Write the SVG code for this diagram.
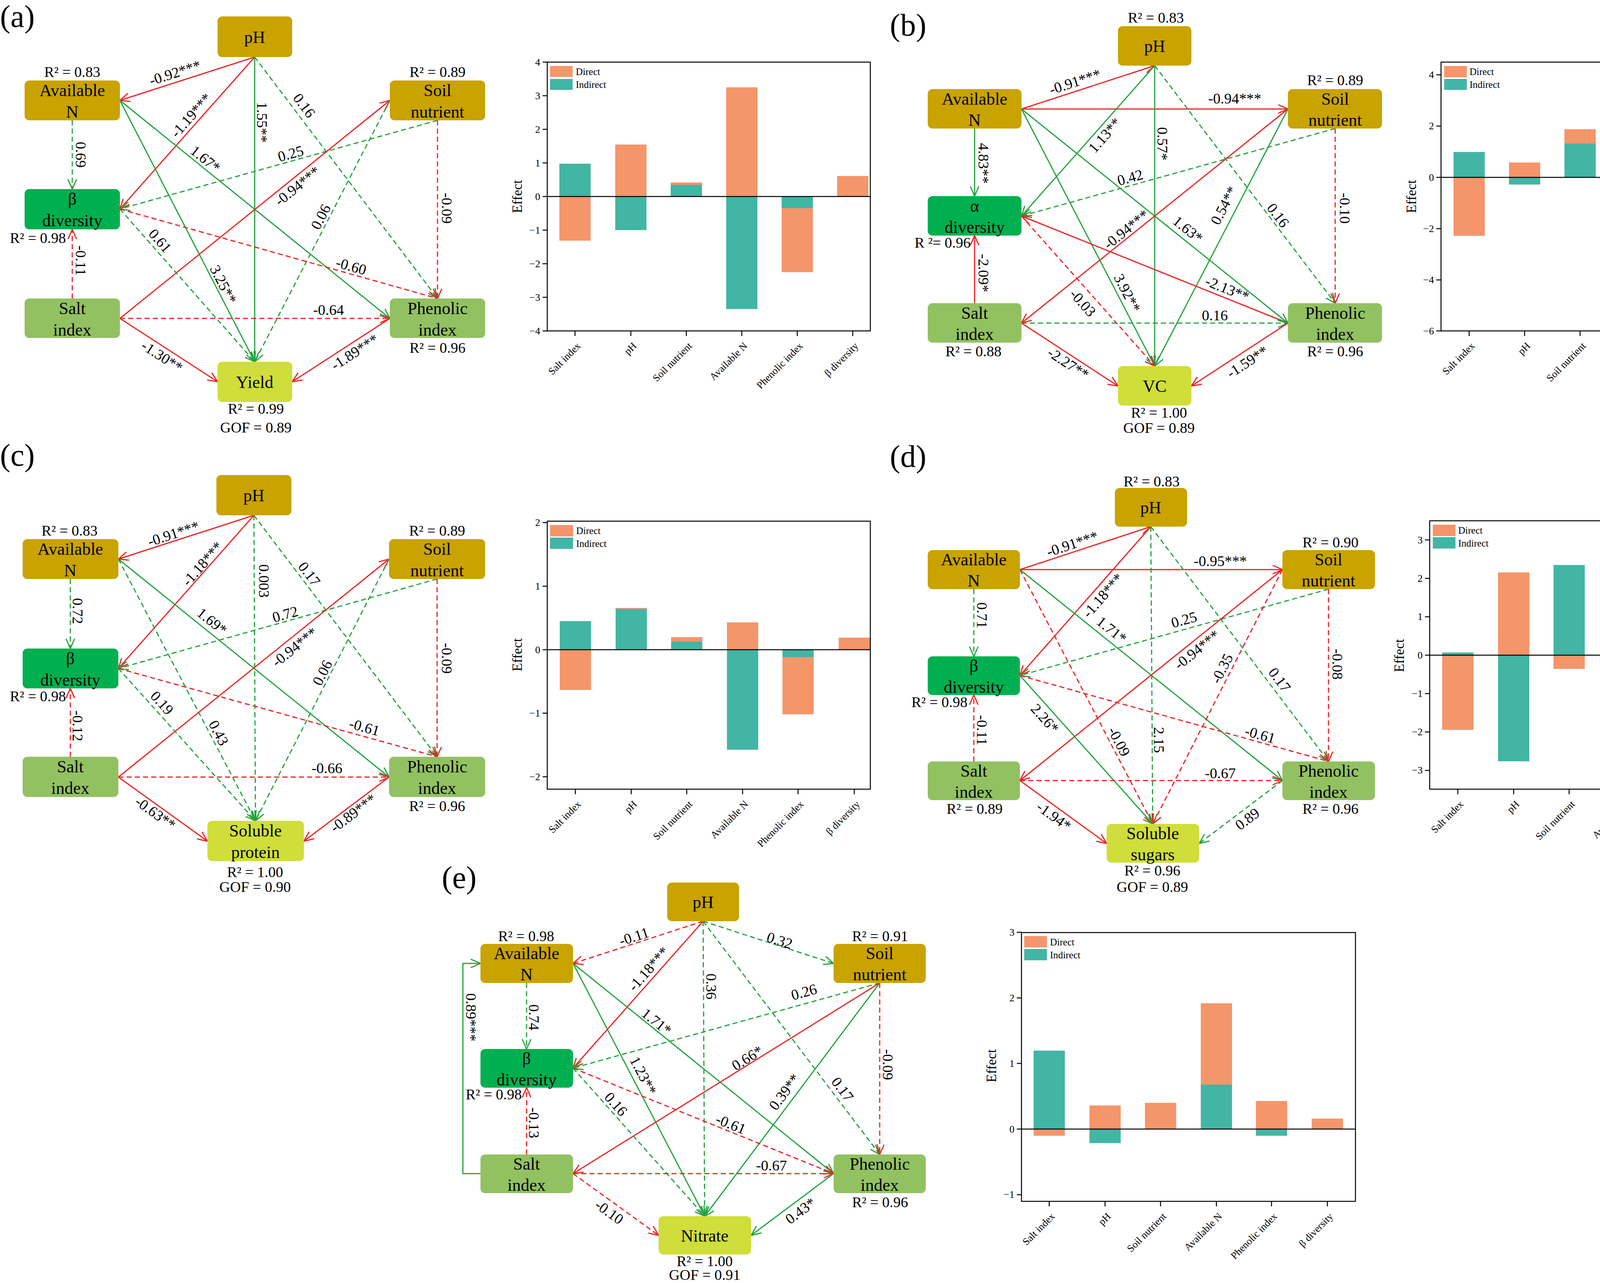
<svg xmlns="http://www.w3.org/2000/svg" width="4547" height="3284" viewBox="0 0 4547 3284">
<style>
text{font-family:"Liberation Serif","Times New Roman",serif;fill:#000}
.nt{font-size:44px;text-anchor:middle}
.el{font-size:38px;text-anchor:middle;dominant-baseline:central}
.rl{font-size:38px;text-anchor:middle}
.pl{font-size:80px}
.tk{font-size:26px;text-anchor:end;dominant-baseline:central}
.xl{font-size:26px;text-anchor:end}
.lg{font-size:25px;dominant-baseline:central}
.ef{font-size:35px;text-anchor:middle;dominant-baseline:central}
.gold{fill:#C9A300}.dg{fill:#00B050}.lgn{fill:#92C162}.yg{fill:#CFDE3B}
.r,.rd{stroke:#EE2222;stroke-width:3;fill:none;marker-end:url(#ar)}
.g,.gd{stroke:#22A33F;stroke-width:3;fill:none;marker-end:url(#ag)}
.rd,.gd{stroke-dasharray:13 8}
.ax{stroke:#000;stroke-width:2.5;fill:none}
.bo{fill:#F5956A}.bt{fill:#43B5A4}
</style>
<defs>
<marker id="ar" viewBox="0 0 30 30" refX="28" refY="15" markerWidth="30" markerHeight="30" markerUnits="userSpaceOnUse" orient="auto"><path d="M3,4 L28,15 L3,26" fill="none" stroke="#EE2222" stroke-width="3"/></marker>
<marker id="ag" viewBox="0 0 30 30" refX="28" refY="15" markerWidth="30" markerHeight="30" markerUnits="userSpaceOnUse" orient="auto"><path d="M3,4 L28,15 L3,26" fill="none" stroke="#22A33F" stroke-width="3"/></marker>
</defs>
<rect width="4547" height="3284" fill="#fff"/>

<!-- ================= PANEL A ================= -->
<text class="pl" x="0" y="69">(a)</text>
<g id="a-connectors">
<line class="r" x1="652" y1="146" x2="307" y2="257"/>
<line class="r" x1="652" y1="146" x2="307" y2="535"/>
<line class="g" x1="652" y1="146" x2="652" y2="926"/>
<line class="gd" x1="652" y1="146" x2="1120" y2="764"/>
<line class="gd" x1="185" y1="308" x2="185" y2="484"/>
<line class="g" x1="307" y1="257" x2="652" y2="926"/>
<line class="g" x1="307" y1="257" x2="998" y2="815"/>
<line class="gd" x1="1120" y1="308" x2="307" y2="535"/>
<line class="rd" x1="1120" y1="308" x2="1120" y2="764"/>
<line class="r" x1="307" y1="815" x2="998" y2="257"/>
<line class="gd" x1="998" y1="257" x2="652" y2="926"/>
<line class="gd" x1="307" y1="535" x2="652" y2="926"/>
<line class="rd" x1="307" y1="535" x2="1120" y2="764"/>
<line class="rd" x1="185" y1="764" x2="185" y2="587"/>
<line class="rd" x1="307" y1="815" x2="998" y2="815"/>
<line class="r" x1="307" y1="815" x2="557" y2="977"/>
<line class="r" x1="998" y1="815" x2="748" y2="977"/>
<text class="el" transform="translate(448,186) rotate(-17.8)">-0.92***</text>
<text class="el" transform="translate(489,295) rotate(-48.4)">-1.19***</text>
<text class="el" transform="translate(671,313) rotate(90)">1.55**</text>
<text class="el" transform="translate(779,270) rotate(52.9)">0.16</text>
<text class="el" transform="translate(207,396) rotate(90)">0.69</text>
<text class="el" transform="translate(572,728) rotate(62.7)">3.25**</text>
<text class="el" transform="translate(526,407) rotate(38.9)">1.67*</text>
<text class="el" transform="translate(744,393) rotate(-15.6)">0.25</text>
<text class="el" transform="translate(1144,533) rotate(90)">-0.09</text>
<text class="el" transform="translate(761,476) rotate(-38.9)">-0.94***</text>
<text class="el" transform="translate(821,555) rotate(-62.6)">0.06</text>
<text class="el" transform="translate(410,616) rotate(48.6)">0.61</text>
<text class="el" transform="translate(899,681) rotate(15.7)">-0.60</text>
<text class="el" transform="translate(207,667) rotate(90)">-0.11</text>
<text class="el" transform="translate(841,793)">-0.64</text>
<text class="el" transform="translate(415,912) rotate(33)">-1.30**</text>
<text class="el" transform="translate(908,901) rotate(-33)">-1.89***</text>
</g>
<g id="a-ph"><rect class="gold" x="557" y="42" width="191" height="104" rx="12"/><text class="nt" x="652" y="110">pH</text></g>
<g id="a-avn"><rect class="gold" x="63" y="206" width="244" height="102" rx="12"/><text class="nt" x="185" y="246">Available</text><text class="nt" x="185" y="301">N</text><text class="rl" x="185" y="197">R² = 0.83</text></g>
<g id="a-soil"><rect class="gold" x="998" y="206" width="244" height="102" rx="12"/><text class="nt" x="1120" y="246">Soil</text><text class="nt" x="1120" y="301">nutrient</text><text class="rl" x="1120" y="197">R² = 0.89</text></g>
<g id="a-beta"><rect class="dg" x="63" y="484" width="244" height="103" rx="12"/><text class="nt" x="185" y="524">β</text><text class="nt" x="185" y="579">diversity</text><text class="rl" x="97" y="622">R² = 0.98</text></g>
<g id="a-salt"><rect class="lgn" x="63" y="764" width="244" height="101" rx="12"/><text class="nt" x="185" y="804">Salt</text><text class="nt" x="185" y="859">index</text></g>
<g id="a-phen"><rect class="lgn" x="998" y="764" width="244" height="101" rx="12"/><text class="nt" x="1120" y="804">Phenolic</text><text class="nt" x="1120" y="859">index</text><text class="rl" x="1120" y="903">R² = 0.96</text></g>
<g id="a-yield"><rect class="yg" x="557" y="926" width="191" height="103" rx="12"/><text class="nt" x="652" y="993">Yield</text><text class="rl" x="655" y="1059">R² = 0.99</text><text class="rl" x="655" y="1107">GOF = 0.89</text></g>

<g id="a-chart">
<rect class="bo" x="1432" y="503" width="80" height="113"/><rect class="bt" x="1432" y="419" width="80" height="84"/>
<rect class="bo" x="1575" y="370" width="80" height="133"/><rect class="bt" x="1575" y="503" width="80" height="86"/>
<rect class="bo" x="1717" y="467" width="80" height="36"/><rect class="bt" x="1717" y="473" width="80" height="30"/>
<rect class="bo" x="1859" y="223.5" width="80" height="279.5"/><rect class="bt" x="1859" y="503" width="80" height="288"/>
<rect class="bo" x="2001" y="503" width="80" height="193.5"/><rect class="bt" x="2001" y="503" width="80" height="30"/>
<rect class="bo" x="2143" y="450.5" width="80" height="52.5"/>
<rect class="ax" x="1401" y="159" width="827" height="688"/>
<path class="ax" d="M1401,503H2228 M1389,159H1401 M1389,245H1401 M1389,331H1401 M1389,417H1401 M1389,503H1401 M1389,589H1401 M1389,675H1401 M1389,761H1401 M1389,847H1401 M1472,847V860 M1615,847V860 M1757,847V860 M1899,847V860 M2041,847V860 M2183,847V860"/>
<text class="tk" x="1383" y="159">4</text><text class="tk" x="1383" y="245">3</text><text class="tk" x="1383" y="331">2</text><text class="tk" x="1383" y="417">1</text><text class="tk" x="1383" y="503">0</text><text class="tk" x="1383" y="589">−1</text><text class="tk" x="1383" y="675">−2</text><text class="tk" x="1383" y="761">−3</text><text class="tk" x="1383" y="847">−4</text>
<text class="ef" transform="translate(1324,503) rotate(-90)">Effect</text>
<rect class="bo" x="1408" y="169" width="58" height="28"/><rect class="bt" x="1408" y="202" width="58" height="28"/>
<text class="lg" x="1474" y="183">Direct</text><text class="lg" x="1474" y="216">Indirect</text>
<text class="xl" transform="translate(1488,887) rotate(-45)">Salt index</text>
<text class="xl" transform="translate(1631,887) rotate(-45)">pH</text>
<text class="xl" transform="translate(1773,887) rotate(-45)">Soil nutrient</text>
<text class="xl" transform="translate(1915,887) rotate(-45)">Available N</text>
<text class="xl" transform="translate(2057,887) rotate(-45)">Phenolic index</text>
<text class="xl" transform="translate(2199,887) rotate(-45)">β diversity</text>
</g>

<!-- ================= PANEL B ================= -->
<text class="pl" x="2278" y="91">(b)</text>
<g id="b-connectors">
<line class="r" x1="2615" y1="279" x2="2956" y2="168"/>
<line class="r" x1="2615" y1="279" x2="3297" y2="279"/>
<line class="g" x1="2495" y1="329" x2="2495" y2="502"/>
<line class="g" x1="2956" y1="168" x2="2615" y2="553"/>
<line class="g" x1="2956" y1="168" x2="2956" y2="937"/>
<line class="gd" x1="2956" y1="168" x2="3418" y2="776"/>
<line class="gd" x1="3418" y1="329" x2="2615" y2="553"/>
<line class="rd" x1="3418" y1="329" x2="3418" y2="776"/>
<line class="g" x1="2615" y1="279" x2="2956" y2="937"/>
<line class="g" x1="2615" y1="279" x2="3297" y2="827"/>
<line class="r" x1="3297" y1="279" x2="2615" y2="827"/>
<line class="g" x1="3297" y1="279" x2="2956" y2="937"/>
<line class="rd" x1="2615" y1="553" x2="2956" y2="937"/>
<line class="r" x1="3297" y1="827" x2="2615" y2="553"/>
<line class="r" x1="2495" y1="776" x2="2495" y2="603"/>
<line class="gd" x1="2615" y1="827" x2="3297" y2="827"/>
<line class="r" x1="2615" y1="827" x2="2862" y2="988"/>
<line class="r" x1="3297" y1="827" x2="3050" y2="988"/>
<text class="el" transform="translate(2752,209) rotate(-18)">-0.91***</text>
<text class="el" transform="translate(3161,252)">-0.94***</text>
<text class="el" transform="translate(2518,418) rotate(90)">4.83**</text>
<text class="el" transform="translate(2828,346) rotate(-48.5)">1.13**</text>
<text class="el" transform="translate(2976,368) rotate(90)">0.57*</text>
<text class="el" transform="translate(3272,551) rotate(52.8)">0.16</text>
<text class="el" transform="translate(2893,454) rotate(-15.6)">0.42</text>
<text class="el" transform="translate(3443,533) rotate(90)">-0.10</text>
<text class="el" transform="translate(2886,750) rotate(62.6)">3.92**</text>
<text class="el" transform="translate(3041,587) rotate(38.8)">1.63*</text>
<text class="el" transform="translate(2883,587) rotate(-38.8)">-0.94***</text>
<text class="el" transform="translate(3133,526) rotate(-62.6)">0.54**</text>
<text class="el" transform="translate(2772,775) rotate(48.4)">-0.03</text>
<text class="el" transform="translate(3142,739) rotate(21.9)">-2.13**</text>
<text class="el" transform="translate(2518,699) rotate(90)">-2.09*</text>
<text class="el" transform="translate(3110,807)">0.16</text>
<text class="el" transform="translate(2735,930) rotate(33.1)">-2.27**</text>
<text class="el" transform="translate(3193,926) rotate(-33.1)">-1.59**</text>
</g>
<g id="b-ph"><rect class="gold" x="2862" y="67" width="188" height="101" rx="12"/><text class="nt" x="2956" y="133">pH</text><text class="rl" x="2959" y="58">R² = 0.83</text></g>
<g id="b-avn"><rect class="gold" x="2375" y="228" width="240" height="101" rx="12"/><text class="nt" x="2495" y="268">Available</text><text class="nt" x="2495" y="322">N</text></g>
<g id="b-soil"><rect class="gold" x="3297" y="228" width="241" height="101" rx="12"/><text class="nt" x="3418" y="268">Soil</text><text class="nt" x="3418" y="322">nutrient</text><text class="rl" x="3418" y="218">R² = 0.89</text></g>
<g id="b-alpha"><rect class="dg" x="2375" y="502" width="240" height="101" rx="12"/><text class="nt" x="2495" y="542">α</text><text class="nt" x="2495" y="596">diversity</text><text class="rl" x="2413" y="634">R ²= 0.96</text></g>
<g id="b-salt"><rect class="lgn" x="2375" y="776" width="240" height="101" rx="12"/><text class="nt" x="2495" y="816">Salt</text><text class="nt" x="2495" y="870">index</text><text class="rl" x="2492" y="912">R² = 0.88</text></g>
<g id="b-phen"><rect class="lgn" x="3297" y="776" width="241" height="101" rx="12"/><text class="nt" x="3418" y="816">Phenolic</text><text class="nt" x="3418" y="870">index</text><text class="rl" x="3418" y="912">R² = 0.96</text></g>
<g id="b-vc"><rect class="yg" x="2862" y="937" width="188" height="101" rx="12"/><text class="nt" x="2956" y="1003">VC</text><text class="rl" x="2967" y="1069">R² = 1.00</text><text class="rl" x="2967" y="1108">GOF = 0.89</text></g>

<g id="b-chart">
<rect class="bo" x="3721" y="454" width="80" height="149.6"/><rect class="bt" x="3721" y="389" width="80" height="65"/>
<rect class="bo" x="3863" y="416" width="80" height="38"/><rect class="bt" x="3863" y="454" width="80" height="18.4"/>
<rect class="bo" x="4005" y="330.7" width="80" height="123.3"/><rect class="bt" x="4005" y="367.4" width="80" height="86.6"/>
<rect class="bo" x="4147" y="196.2" width="80" height="257.8"/><rect class="bt" x="4147" y="454" width="80" height="307"/>
<rect class="bo" x="4290" y="454" width="80" height="105"/><rect class="bt" x="4290" y="450" width="80" height="4"/>
<rect class="bo" x="4432" y="454" width="80" height="3"/>
<rect class="ax" x="3689" y="159" width="854" height="688"/>
<path class="ax" d="M3689,454H4543 M3677,191.6H3689 M3677,322.8H3689 M3677,454H3689 M3677,585.2H3689 M3677,716.4H3689 M3677,847H3689 M3761,847V860 M3903,847V860 M4045,847V860 M4187,847V860 M4330,847V860 M4472,847V860"/>
<text class="tk" x="3671" y="191.6">4</text><text class="tk" x="3671" y="322.8">2</text><text class="tk" x="3671" y="454">0</text><text class="tk" x="3671" y="585.2">−2</text><text class="tk" x="3671" y="716.4">−4</text><text class="tk" x="3671" y="847">−6</text>
<text class="ef" transform="translate(3613,503) rotate(-90)">Effect</text>
<rect class="bo" x="3697" y="169" width="58" height="29"/><rect class="bt" x="3697" y="202" width="58" height="28"/>
<text class="lg" x="3762" y="183">Direct</text><text class="lg" x="3762" y="216">Indirect</text>
<text class="xl" transform="translate(3777,887) rotate(-45)">Salt index</text>
<text class="xl" transform="translate(3919,887) rotate(-45)">pH</text>
<text class="xl" transform="translate(4061,887) rotate(-45)">Soil nutrient</text>
<text class="xl" transform="translate(4203,887) rotate(-45)">Available N</text>
<text class="xl" transform="translate(4346,887) rotate(-45)">Phenolic index</text>
<text class="xl" transform="translate(4488,887) rotate(-45)">β diversity</text>
</g>

<!-- ================= PANEL C ================= -->
<text class="pl" x="0" y="1192">(c)</text>
<g id="c-connectors">
<line class="r" x1="650" y1="1319" x2="303" y2="1431"/>
<line class="r" x1="650" y1="1319" x2="303" y2="1711"/>
<line class="gd" x1="650" y1="1319" x2="654" y2="2101"/>
<line class="gd" x1="650" y1="1319" x2="1119" y2="1937"/>
<line class="gd" x1="180" y1="1482" x2="180" y2="1660"/>
<line class="gd" x1="303" y1="1431" x2="654" y2="2101"/>
<line class="g" x1="303" y1="1431" x2="996" y2="1989"/>
<line class="gd" x1="1119" y1="1482" x2="303" y2="1711"/>
<line class="rd" x1="1119" y1="1482" x2="1119" y2="1937"/>
<line class="r" x1="303" y1="1989" x2="996" y2="1431"/>
<line class="gd" x1="996" y1="1431" x2="654" y2="2101"/>
<line class="gd" x1="303" y1="1711" x2="654" y2="2101"/>
<line class="rd" x1="303" y1="1711" x2="1119" y2="1937"/>
<line class="rd" x1="180" y1="1937" x2="180" y2="1762"/>
<line class="rd" x1="303" y1="1989" x2="996" y2="1989"/>
<line class="r" x1="303" y1="1989" x2="531" y2="2153"/>
<line class="r" x1="996" y1="1989" x2="778" y2="2153"/>
<text class="el" transform="translate(444,1366) rotate(-17.9)">-0.91***</text>
<text class="el" transform="translate(518,1443) rotate(-48.5)">-1.18***</text>
<text class="el" transform="translate(676,1487) rotate(90)">0.003</text>
<text class="el" transform="translate(792,1469) rotate(52.8)">0.17</text>
<text class="el" transform="translate(199,1564) rotate(90)">0.72</text>
<text class="el" transform="translate(560,1876) rotate(62.3)">0.43</text>
<text class="el" transform="translate(543,1590) rotate(38.8)">1.69*</text>
<text class="el" transform="translate(730,1572) rotate(-15.7)">0.72</text>
<text class="el" transform="translate(1144,1685) rotate(90)">-0.09</text>
<text class="el" transform="translate(754,1656) rotate(-38.8)">-0.94***</text>
<text class="el" transform="translate(825,1722) rotate(-63)">0.06</text>
<text class="el" transform="translate(415,1799) rotate(48)">0.19</text>
<text class="el" transform="translate(933,1861) rotate(15.5)">-0.61</text>
<text class="el" transform="translate(199,1858) rotate(90)">-0.12</text>
<text class="el" transform="translate(837,1966)">-0.66</text>
<text class="el" transform="translate(398,2081) rotate(35.7)">-0.63**</text>
<text class="el" transform="translate(904,2081) rotate(-37)">-0.89***</text>
</g>
<g id="c-ph"><rect class="gold" x="554" y="1216" width="192" height="103" rx="12"/><text class="nt" x="650" y="1283">pH</text></g>
<g id="c-avn"><rect class="gold" x="58" y="1380" width="245" height="102" rx="12"/><text class="nt" x="180" y="1420">Available</text><text class="nt" x="180" y="1475">N</text><text class="rl" x="178" y="1371">R² = 0.83</text></g>
<g id="c-soil"><rect class="gold" x="996" y="1380" width="246" height="102" rx="12"/><text class="nt" x="1119" y="1420">Soil</text><text class="nt" x="1119" y="1475">nutrient</text><text class="rl" x="1119" y="1371">R² = 0.89</text></g>
<g id="c-beta"><rect class="dg" x="58" y="1660" width="245" height="102" rx="12"/><text class="nt" x="180" y="1700">β</text><text class="nt" x="180" y="1755">diversity</text><text class="rl" x="97" y="1795">R² = 0.98</text></g>
<g id="c-salt"><rect class="lgn" x="58" y="1937" width="245" height="103" rx="12"/><text class="nt" x="180" y="1977">Salt</text><text class="nt" x="180" y="2032">index</text></g>
<g id="c-phen"><rect class="lgn" x="996" y="1937" width="246" height="103" rx="12"/><text class="nt" x="1119" y="1977">Phenolic</text><text class="nt" x="1119" y="2032">index</text><text class="rl" x="1119" y="2076">R² = 0.96</text></g>
<g id="c-sp"><rect class="yg" x="531" y="2101" width="247" height="103" rx="12"/><text class="nt" x="654" y="2141">Soluble</text><text class="nt" x="654" y="2196">protein</text><text class="rl" x="653" y="2245">R² = 1.00</text><text class="rl" x="653" y="2283">GOF = 0.90</text></g>

<g id="c-chart">
<rect class="bo" x="1433" y="1663" width="80" height="103"/><rect class="bt" x="1433" y="1589.8" width="80" height="73.2"/>
<rect class="bo" x="1576" y="1556.2" width="80" height="106.8"/><rect class="bt" x="1576" y="1558.6" width="80" height="104.4"/>
<rect class="bo" x="1718" y="1630.8" width="80" height="32.2"/><rect class="bt" x="1718" y="1641.9" width="80" height="21.1"/>
<rect class="bo" x="1861" y="1593.1" width="80" height="69.9"/><rect class="bt" x="1861" y="1663" width="80" height="256"/>
<rect class="bo" x="2003" y="1663" width="80" height="165.4"/><rect class="bt" x="2003" y="1663" width="80" height="18.9"/>
<rect class="bo" x="2147" y="1632.1" width="80" height="30.9"/>
<rect class="ax" x="1401" y="1334" width="827" height="686"/>
<path class="ax" d="M1401,1663H2228 M1389,1337.8H1401 M1389,1500.4H1401 M1389,1663H1401 M1389,1825.6H1401 M1389,1988.2H1401 M1473,2020V2033 M1616,2020V2033 M1758,2020V2033 M1901,2020V2033 M2043,2020V2033 M2187,2020V2033"/>
<text class="tk" x="1383" y="1337.8">2</text><text class="tk" x="1383" y="1500.4">1</text><text class="tk" x="1383" y="1663">0</text><text class="tk" x="1383" y="1825.6">−1</text><text class="tk" x="1383" y="1988.2">−2</text>
<text class="ef" transform="translate(1324,1676) rotate(-90)">Effect</text>
<rect class="bo" x="1408" y="1344" width="59" height="29"/><rect class="bt" x="1408" y="1376" width="59" height="29"/>
<text class="lg" x="1475" y="1358">Direct</text><text class="lg" x="1475" y="1391">Indirect</text>
<text class="xl" transform="translate(1489,2060) rotate(-45)">Salt index</text>
<text class="xl" transform="translate(1632,2060) rotate(-45)">pH</text>
<text class="xl" transform="translate(1774,2060) rotate(-45)">Soil nutrient</text>
<text class="xl" transform="translate(1917,2060) rotate(-45)">Available N</text>
<text class="xl" transform="translate(2059,2060) rotate(-45)">Phenolic index</text>
<text class="xl" transform="translate(2203,2060) rotate(-45)">β diversity</text>
</g>

<!-- ================= PANEL D ================= -->
<text class="pl" x="2278" y="1195">(d)</text>
<g id="d-connectors">
<line class="r" x1="2611" y1="1458" x2="2946" y2="1348"/>
<line class="r" x1="2611" y1="1458" x2="3283" y2="1458"/>
<line class="r" x1="2946" y1="1348" x2="2611" y2="1729"/>
<line class="gd" x1="2493" y1="1508" x2="2493" y2="1680"/>
<line class="gd" x1="2946" y1="1348" x2="2951" y2="2109"/>
<line class="gd" x1="2946" y1="1348" x2="3401" y2="1949"/>
<line class="rd" x1="2611" y1="1458" x2="2951" y2="2109"/>
<line class="g" x1="2611" y1="1458" x2="3283" y2="1998"/>
<line class="gd" x1="3401" y1="1508" x2="2611" y2="1729"/>
<line class="rd" x1="3401" y1="1508" x2="3401" y2="1949"/>
<line class="r" x1="3283" y1="1458" x2="2611" y2="1998"/>
<line class="rd" x1="3283" y1="1458" x2="2951" y2="2109"/>
<line class="g" x1="2611" y1="1729" x2="2951" y2="2109"/>
<line class="rd" x1="2611" y1="1729" x2="3401" y2="1949"/>
<line class="rd" x1="2493" y1="1949" x2="2493" y2="1779"/>
<line class="rd" x1="2611" y1="1998" x2="3283" y2="1998"/>
<line class="r" x1="2611" y1="1998" x2="2833" y2="2159"/>
<line class="gd" x1="3283" y1="1998" x2="3070" y2="2159"/>
<text class="el" transform="translate(2745,1392) rotate(-18.2)">-0.91***</text>
<text class="el" transform="translate(3124,1436)">-0.95***</text>
<text class="el" transform="translate(2823,1524) rotate(-48.7)">-1.18***</text>
<text class="el" transform="translate(2514,1575) rotate(90)">0.71</text>
<text class="el" transform="translate(2967,1894) rotate(90)">2.15</text>
<text class="el" transform="translate(3276,1740) rotate(52.9)">0.17</text>
<text class="el" transform="translate(2865,1898) rotate(62.4)">-0.09</text>
<text class="el" transform="translate(2846,1612) rotate(38.8)">1.71*</text>
<text class="el" transform="translate(3031,1586) rotate(-15.6)">0.25</text>
<text class="el" transform="translate(3424,1700) rotate(90)">-0.08</text>
<text class="el" transform="translate(3064,1663) rotate(-38.8)">-0.94***</text>
<text class="el" transform="translate(3128,1711) rotate(-63)">-0.35</text>
<text class="el" transform="translate(2675,1839) rotate(48.2)">2.26*</text>
<text class="el" transform="translate(3226,1880) rotate(15.6)">-0.61</text>
<text class="el" transform="translate(2514,1869) rotate(90)">-0.11</text>
<text class="el" transform="translate(3124,1979)">-0.67</text>
<text class="el" transform="translate(2698,2089) rotate(36)">-1.94*</text>
<text class="el" transform="translate(3193,2096) rotate(-37)">0.89</text>
</g>
<g id="d-ph"><rect class="gold" x="2854" y="1249" width="185" height="99" rx="12"/><text class="nt" x="2946" y="1314">pH</text><text class="rl" x="2948" y="1245">R² = 0.83</text></g>
<g id="d-avn"><rect class="gold" x="2375" y="1408" width="236" height="100" rx="12"/><text class="nt" x="2493" y="1447">Available</text><text class="nt" x="2493" y="1501">N</text></g>
<g id="d-soil"><rect class="gold" x="3283" y="1408" width="237" height="100" rx="12"/><text class="nt" x="3401" y="1447">Soil</text><text class="nt" x="3401" y="1501">nutrient</text><text class="rl" x="3406" y="1401">R² = 0.90</text></g>
<g id="d-beta"><rect class="dg" x="2375" y="1680" width="236" height="99" rx="12"/><text class="nt" x="2493" y="1719">β</text><text class="nt" x="2493" y="1773">diversity</text><text class="rl" x="2405" y="1810">R² = 0.98</text></g>
<g id="d-salt"><rect class="lgn" x="2375" y="1949" width="236" height="99" rx="12"/><text class="nt" x="2493" y="1988">Salt</text><text class="nt" x="2493" y="2042">index</text><text class="rl" x="2495" y="2083">R² = 0.89</text></g>
<g id="d-phen"><rect class="lgn" x="3283" y="1949" width="237" height="99" rx="12"/><text class="nt" x="3401" y="1988">Phenolic</text><text class="nt" x="3401" y="2042">index</text><text class="rl" x="3406" y="2083">R² = 0.96</text></g>
<g id="d-ss"><rect class="yg" x="2833" y="2109" width="237" height="99" rx="12"/><text class="nt" x="2951" y="2148">Soluble</text><text class="nt" x="2951" y="2202">sugars</text><text class="rl" x="2950" y="2241">R² = 0.96</text><text class="rl" x="2950" y="2283">GOF = 0.89</text></g>

<g id="d-chart">
<rect class="bo" x="3692" y="1677" width="80" height="191.2"/><rect class="bt" x="3692" y="1670.1" width="80" height="6.9"/>
<rect class="bo" x="3835" y="1465.2" width="80" height="211.8"/><rect class="bt" x="3835" y="1677" width="80" height="271.6"/>
<rect class="bo" x="3977" y="1677" width="80" height="35"/><rect class="bt" x="3977" y="1446.2" width="80" height="230.8"/>
<rect class="bo" x="4119" y="1677" width="80" height="66.6"/><rect class="bt" x="4119" y="1677" width="80" height="57.4"/>
<rect class="bo" x="4261" y="1589.1" width="80" height="87.9"/><rect class="bt" x="4261" y="1677" width="80" height="136.6"/>
<rect class="bo" x="4403" y="1453.9" width="80" height="223.1"/>
<rect class="ax" x="3660" y="1333" width="855" height="687"/>
<path class="ax" d="M3660,1677H4515 M3648,1382.1H3660 M3648,1480.4H3660 M3648,1578.7H3660 M3648,1677H3660 M3648,1775.3H3660 M3648,1873.6H3660 M3648,1971.9H3660 M3732,2020V2033 M3875,2020V2033 M4017,2020V2033 M4159,2020V2033 M4301,2020V2033 M4443,2020V2033"/>
<text class="tk" x="3642" y="1382.1">3</text><text class="tk" x="3642" y="1480.4">2</text><text class="tk" x="3642" y="1578.7">1</text><text class="tk" x="3642" y="1677">0</text><text class="tk" x="3642" y="1775.3">−1</text><text class="tk" x="3642" y="1873.6">−2</text><text class="tk" x="3642" y="1971.9">−3</text>
<text class="ef" transform="translate(3582,1678) rotate(-90)">Effect</text>
<rect class="bo" x="3668" y="1343" width="58" height="29"/><rect class="bt" x="3668" y="1375" width="58" height="29"/>
<text class="lg" x="3733" y="1357">Direct</text><text class="lg" x="3733" y="1390">Indirect</text>
<text class="xl" transform="translate(3748,2060) rotate(-45)">Salt index</text>
<text class="xl" transform="translate(3891,2060) rotate(-45)">pH</text>
<text class="xl" transform="translate(4033,2060) rotate(-45)">Soil nutrient</text>
<text class="xl" transform="translate(4175,2060) rotate(-45)">Available N</text>
<text class="xl" transform="translate(4317,2060) rotate(-45)">Phenolic index</text>
<text class="xl" transform="translate(4459,2060) rotate(-45)">β diversity</text>
</g>

<!-- ================= PANEL E ================= -->
<text class="pl" x="1131" y="2273">(e)</text>
<g id="e-connectors">
<line class="rd" x1="1800" y1="2358" x2="1467" y2="2466"/>
<line class="gd" x1="1800" y1="2358" x2="2134" y2="2466"/>
<line class="r" x1="1800" y1="2358" x2="1467" y2="2734"/>
<line class="gd" x1="1800" y1="2358" x2="1804" y2="3113"/>
<line class="gd" x1="1800" y1="2358" x2="2252" y2="2955"/>
<line class="gd" x1="1348" y1="2516" x2="1348" y2="2685"/>
<path class="g" d="M1230,3004H1185V2466H1230"/>
<line class="g" x1="1467" y1="2466" x2="1804" y2="3113"/>
<line class="g" x1="1467" y1="2466" x2="2134" y2="3004"/>
<line class="gd" x1="2252" y1="2516" x2="1467" y2="2734"/>
<line class="rd" x1="2252" y1="2516" x2="2252" y2="2955"/>
<line class="r" x1="2252" y1="2516" x2="1467" y2="3004"/>
<line class="g" x1="2252" y1="2516" x2="1804" y2="3113"/>
<line class="gd" x1="1467" y1="2734" x2="1804" y2="3113"/>
<line class="rd" x1="1467" y1="2734" x2="2134" y2="3004"/>
<line class="rd" x1="1348" y1="2955" x2="1348" y2="2784"/>
<line class="rd" x1="1467" y1="3004" x2="2134" y2="3004"/>
<line class="rd" x1="1467" y1="3004" x2="1686" y2="3162"/>
<line class="g" x1="2134" y1="3004" x2="1923" y2="3162"/>
<text class="el" transform="translate(1623,2397) rotate(-18)">-0.11</text>
<text class="el" transform="translate(1996,2407) rotate(17.9)">0.32</text>
<text class="el" transform="translate(1660,2480) rotate(-48.5)">-1.18***</text>
<text class="el" transform="translate(1821,2525) rotate(90)">0.36</text>
<text class="el" transform="translate(2157,2788) rotate(52.9)">0.17</text>
<text class="el" transform="translate(1367,2604) rotate(90)">0.74</text>
<text class="el" transform="translate(1206,2604) rotate(90)">0.89***</text>
<text class="el" transform="translate(1647,2753) rotate(62.5)">1.23**</text>
<text class="el" transform="translate(1681,2615) rotate(38.9)">1.71*</text>
<text class="el" transform="translate(2058,2539) rotate(-15.5)">0.26</text>
<text class="el" transform="translate(2273,2725) rotate(90)">-0.09</text>
<text class="el" transform="translate(1913,2708) rotate(-31.9)">0.66*</text>
<text class="el" transform="translate(2008,2795) rotate(-53.1)">0.39**</text>
<text class="el" transform="translate(1577,2826) rotate(48.4)">0.16</text>
<text class="el" transform="translate(1871,2877) rotate(22)">-0.61</text>
<text class="el" transform="translate(1367,2874) rotate(90)">-0.13</text>
<text class="el" transform="translate(1975,2983)">-0.67</text>
<text class="el" transform="translate(1560,3102) rotate(35.8)">-0.10</text>
<text class="el" transform="translate(2049,3099) rotate(-36.8)">0.43*</text>
</g>
<g id="e-ph"><rect class="gold" x="1708" y="2259" width="184" height="99" rx="12"/><text class="nt" x="1800" y="2324">pH</text></g>
<g id="e-avn"><rect class="gold" x="1230" y="2416" width="237" height="100" rx="12"/><text class="nt" x="1348" y="2455">Available</text><text class="nt" x="1348" y="2509">N</text><text class="rl" x="1347" y="2409">R² = 0.98</text></g>
<g id="e-soil"><rect class="gold" x="2134" y="2416" width="236" height="100" rx="12"/><text class="nt" x="2252" y="2455">Soil</text><text class="nt" x="2252" y="2509">nutrient</text><text class="rl" x="2253" y="2409">R² = 0.91</text></g>
<g id="e-beta"><rect class="dg" x="1230" y="2685" width="237" height="99" rx="12"/><text class="nt" x="1348" y="2724">β</text><text class="nt" x="1348" y="2778">diversity</text><text class="rl" x="1264" y="2814">R² = 0.98</text></g>
<g id="e-salt"><rect class="lgn" x="1230" y="2955" width="237" height="99" rx="12"/><text class="nt" x="1348" y="2994">Salt</text><text class="nt" x="1348" y="3048">index</text></g>
<g id="e-phen"><rect class="lgn" x="2134" y="2955" width="236" height="99" rx="12"/><text class="nt" x="2252" y="2994">Phenolic</text><text class="nt" x="2252" y="3048">index</text><text class="rl" x="2253" y="3090">R² = 0.96</text></g>
<g id="e-nitrate"><rect class="yg" x="1686" y="3113" width="237" height="98" rx="12"/><text class="nt" x="1804" y="3178">Nitrate</text><text class="rl" x="1804" y="3241">R² = 1.00</text><text class="rl" x="1804" y="3276">GOF = 0.91</text></g>

<g id="e-chart">
<rect class="bo" x="2646" y="2890" width="80" height="17"/><rect class="bt" x="2646" y="2689.2" width="80" height="200.8"/>
<rect class="bo" x="2789" y="2829.6" width="80" height="60.4"/><rect class="bt" x="2789" y="2890" width="80" height="35.9"/>
<rect class="bo" x="2931" y="2822.8" width="80" height="67.2"/>
<rect class="bo" x="3074" y="2568.1" width="80" height="321.9"/><rect class="bt" x="3074" y="2776.2" width="80" height="113.8"/>
<rect class="bo" x="3215" y="2818.1" width="80" height="71.9"/><rect class="bt" x="3215" y="2890" width="80" height="17"/>
<rect class="bo" x="3358" y="2863.1" width="80" height="26.9"/>
<rect class="ax" x="2615" y="2387" width="855" height="688"/>
<path class="ax" d="M2615,2890H3470 M2603,2386.3H2615 M2603,2554.2H2615 M2603,2722.1H2615 M2603,2890H2615 M2603,3057.9H2615 M2686,3075V3088 M2829,3075V3088 M2971,3075V3088 M3114,3075V3088 M3255,3075V3088 M3398,3075V3088"/>
<text class="tk" x="2597" y="2386.3">3</text><text class="tk" x="2597" y="2554.2">2</text><text class="tk" x="2597" y="2722.1">1</text><text class="tk" x="2597" y="2890">0</text><text class="tk" x="2597" y="3057.9">−1</text>
<text class="ef" transform="translate(2538,2728) rotate(-90)">Effect</text>
<rect class="bo" x="2622" y="2396" width="58" height="29"/><rect class="bt" x="2622" y="2429" width="58" height="29"/>
<text class="lg" x="2688" y="2411">Direct</text><text class="lg" x="2688" y="2444">Indirect</text>
<text class="xl" transform="translate(2702,3115) rotate(-45)">Salt index</text>
<text class="xl" transform="translate(2845,3115) rotate(-45)">pH</text>
<text class="xl" transform="translate(2987,3115) rotate(-45)">Soil nutrient</text>
<text class="xl" transform="translate(3130,3115) rotate(-45)">Available N</text>
<text class="xl" transform="translate(3271,3115) rotate(-45)">Phenolic index</text>
<text class="xl" transform="translate(3414,3115) rotate(-45)">β diversity</text>
</g>
</svg>
